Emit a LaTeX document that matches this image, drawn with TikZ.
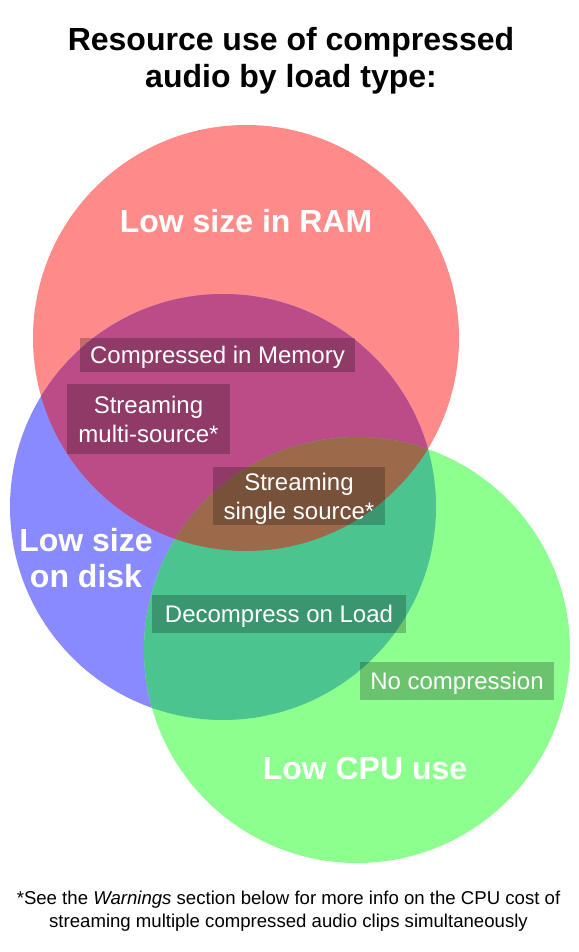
\documentclass[tikz,border=0pt]{standalone}
\usepackage{fontspec}
\setmainfont{Liberation Sans}
\definecolor{redc}{HTML}{FF8A8A}
\definecolor{bluec}{HTML}{8A8AFF}
\definecolor{greenc}{HTML}{8CFF8E}
\definecolor{purpc}{HTML}{BC4C88}
\definecolor{tealc}{HTML}{4CC490}
\definecolor{brownc}{HTML}{9C6A4B}
\begin{document}
\begin{tikzpicture}[x=1pt,y=-1pt,
  boxlbl/.style={fill=black, fill opacity=0.23, text opacity=1, text=white,
    font=\fontsize{24}{29}\selectfont, align=center, inner sep=0pt},
  oneline/.style={text height=17.2pt, text depth=0pt},
  biglbl/.style={text=white, font=\fontsize{32}{37}\selectfont\bfseries, inner sep=0pt, anchor=base},
  titlelbl/.style={text=black, font=\fontsize{32}{37}\selectfont\bfseries, inner sep=0pt, anchor=base},
  notelbl/.style={text=black, font=\fontsize{18.6}{23}\selectfont, inner sep=0pt, anchor=base},
  ]
\useasboundingbox (0,0) rectangle (578,952);
\fill[white] (0,0) rectangle (578,952);
\coordinate (cR) at (246,338);
\coordinate (cB) at (223,507);
\coordinate (cG) at (357,650);
% base circles
\fill[redc] (cR) circle[radius=213pt];
\fill[bluec] (cB) circle[radius=213pt];
\fill[greenc] (cG) circle[radius=213pt];
% overlaps
\begin{scope}
  \clip (cR) circle[radius=213pt];
  \fill[purpc] (cB) circle[radius=213pt];
\end{scope}
\begin{scope}
  \clip (cB) circle[radius=213pt];
  \fill[tealc] (cG) circle[radius=213pt];
\end{scope}
\begin{scope}
  \clip (cR) circle[radius=213pt];
  \fill[brownc] (cG) circle[radius=213pt];
\end{scope}
% title
\node[titlelbl] (t1) at (291,51) {Resource use of compressed};
\node[titlelbl] (t2) at (291,88) {audio by load type:};
% big labels
\node[biglbl] (ram) at (246,232) {Low size in RAM};
\node[biglbl] (disk1) at (86,551) {Low size};
\node[biglbl] (disk2) at (86,587) {on disk};
\node[biglbl] (cpu) at (365,779) {Low CPU use};
% boxes
\node[boxlbl, oneline, minimum width=275pt, minimum height=34pt] (cm) at (217.5,355) {Compressed in Memory};
\node[boxlbl, minimum width=163pt, minimum height=70pt] (sm) at (148.5,419) {Streaming\\multi-source*};
\node[boxlbl, minimum width=172pt, minimum height=58pt] (ss) at (299,496) {Streaming\\\smash{single source*}};
\node[boxlbl, oneline, minimum width=254pt, minimum height=38pt] (dl) at (279,614) {Decompress on Load};
\node[boxlbl, oneline, minimum width=194pt, minimum height=38pt] (nc) at (457,681) {No compression};
% footnote
\node[notelbl] (n1) at (288.5,904) {*See the \textit{Warnings} section below for more info on the CPU cost of};
\node[notelbl] (n2) at (288.5,927) {streaming multiple compressed audio clips simultaneously};
\end{tikzpicture}
\end{document}
